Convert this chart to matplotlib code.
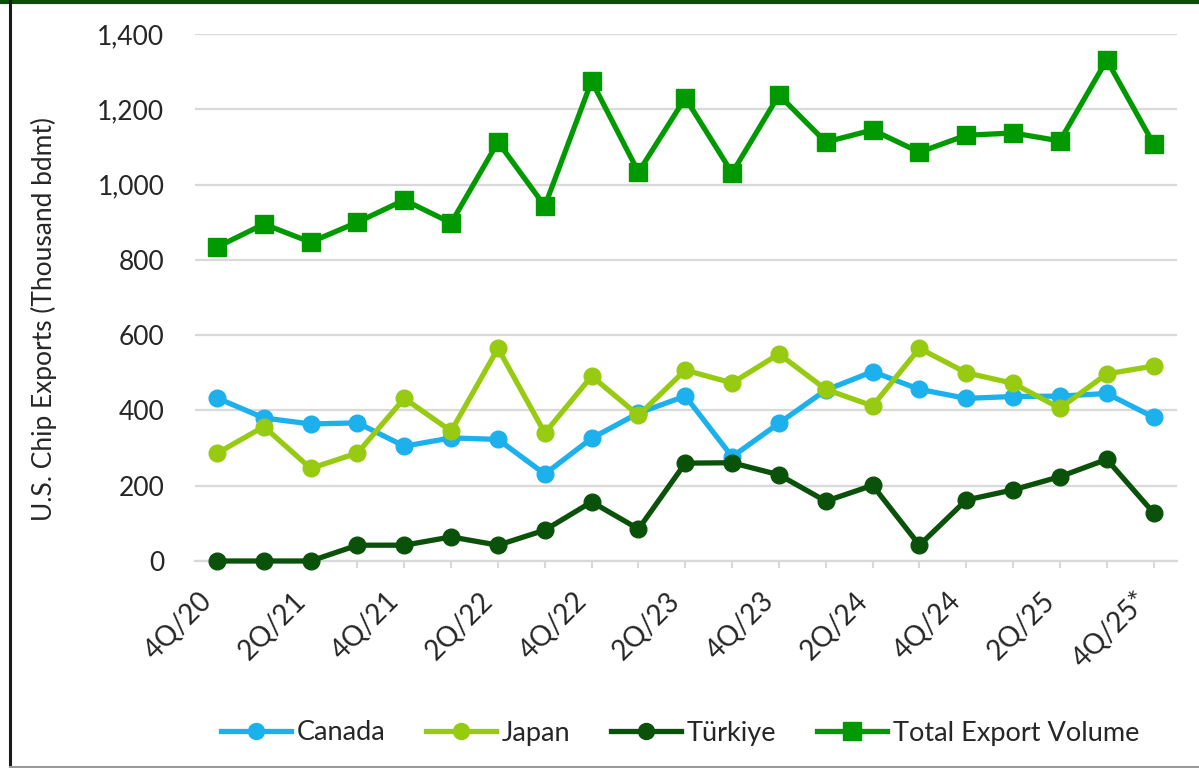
import matplotlib
matplotlib.use("Agg")
import matplotlib.pyplot as plt
from matplotlib.lines import Line2D
from matplotlib.ticker import FuncFormatter, FixedLocator

quarters = ["4Q/20", "1Q/21", "2Q/21", "3Q/21", "4Q/21", "1Q/22", "2Q/22", "3Q/22",
            "4Q/22", "1Q/23", "2Q/23", "3Q/23", "4Q/23", "1Q/24", "2Q/24", "3Q/24",
            "4Q/24", "1Q/25", "2Q/25", "3Q/25", "4Q/25*"]
canada = [433, 380, 364, 367, 305, 327, 323, 231, 326, 393, 438, 277, 366, 454, 503,
          456, 432, 437, 438, 445, 382]
japan = [286, 357, 246, 287, 432, 345, 565, 340, 491, 387, 507, 473, 550, 456, 412,
         565, 500, 472, 406, 497, 518]
turkiye = [0, 0, 0, 42, 42, 64, 42, 82, 157, 85, 260, 261, 229, 159, 201, 42, 162,
           189, 224, 270, 128]
total = [834, 895, 847, 900, 959, 898, 1113, 943, 1275, 1033, 1230, 1031, 1238, 1113,
         1145, 1086, 1131, 1137, 1116, 1331, 1108]

plt.rcParams['font.family'] = ['Lato', 'DejaVu Sans']
text_color = '#262626'

W, H = 1199, 768
fig = plt.figure(figsize=(W / 100, H / 100), dpi=100)
ax = fig.add_axes([195 / W, 1 - 561 / H, (1177 - 195) / W, (561 - 34) / H])

x = list(range(len(quarters)))
series = [
    ("Canada", canada, '#1CB1EC', 'o', 12),
    ("Japan", japan, '#97CB12', 'o', 12),
    ("Türkiye", turkiye, '#0A520A', 'o', 12),
    ("Total Export Volume", total, '#009A00', 's', 13),
]
handles = []
for name, vals, col, mk, ms in series:
    ax.plot(x, vals, color=col, lw=3.8, marker=mk, ms=ms, mfc=col, mec=col,
            clip_on=False, zorder=3, solid_joinstyle='round')
    handles.append(Line2D([0], [0], color=col, lw=3.8, marker=mk, ms=ms - 0.5,
                          mfc=col, mec=col, label=name))

ax.set_xlim(-0.47, 20.5)
ax.set_ylim(0, 1400)
ax.set_yticks(range(0, 1401, 200))
ax.yaxis.set_major_formatter(FuncFormatter(lambda v, p: f"{int(v):,}"))
ax.grid(axis='y', color='#D9D9D9', lw=1.6, zorder=0)
ax.set_axisbelow(True)

ax.xaxis.set_major_locator(FixedLocator(x))
ax.set_xticklabels([q if i % 2 == 0 else "" for i, q in enumerate(quarters)],
                   rotation=45, ha='right', rotation_mode='default')
ax.tick_params(axis='x', length=5, width=1.5, color='#D9D9D9', pad=14,
               labelsize=20, labelcolor=text_color)
ax.tick_params(axis='y', length=0, pad=22, labelsize=19, labelcolor=text_color)

for s in ['top', 'right', 'left']:
    ax.spines[s].set_visible(False)
ax.spines['bottom'].set_color('#D9D9D9')
ax.spines['bottom'].set_linewidth(1.6)
ax.spines['bottom'].set_zorder(1)

ax.set_ylabel("U.S. Chip Exports (Thousand bdmt)", fontsize=19, color=text_color)
ax.yaxis.set_label_coords(-138 / (1177 - 195), 0.46)

fig.legend(handles=handles, loc='center', bbox_to_anchor=(680 / W, 1 - 733 / H),
           ncol=4, frameon=False, fontsize=19.5, handlelength=2.6, handletextpad=0.2,
           columnspacing=1.5, labelcolor=text_color)

# frame lines
fig.add_artist(Line2D([0, 1], [1 - 1.5 / H, 1 - 1.5 / H], transform=fig.transFigure,
                      color='#0B4D0B', lw=3))
fig.add_artist(Line2D([10 / W, 10 / W], [0, 1], transform=fig.transFigure,
                      color='#1A1A1A', lw=2.2))
fig.add_artist(Line2D([10 / W, 1], [1.5 / H, 1.5 / H], transform=fig.transFigure,
                      color='#9A9A9A', lw=1.5))

fig.savefig("out.png", dpi=100)
